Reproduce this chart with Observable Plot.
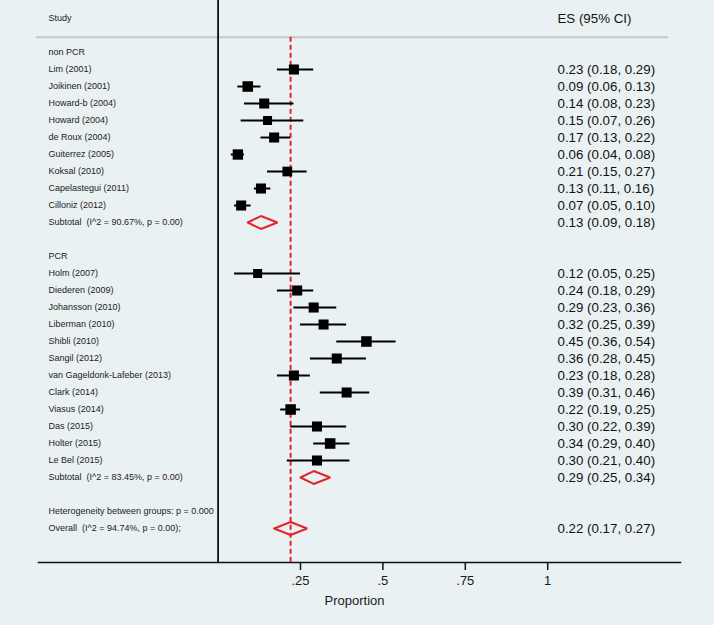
<!DOCTYPE html>
<html>
<head>
<meta charset="utf-8">
<script src="https://cdn.jsdelivr.net/npm/d3@7"></script>
<script src="https://cdn.jsdelivr.net/npm/@observablehq/plot@0.6"></script>
<style>
  html, body { margin: 0; padding: 0; background: #eaf1f3; }
  svg text { white-space: pre; }
</style>
</head>
<body>
<div id="chart"></div>
<script>
// ---- data ----
const groupNames = ["non PCR", "PCR"];

const nonPcrStudies = ["Lim (2001)", "Joikinen (2001)", "Howard-b (2004)", "Howard (2004)", "de Roux (2004)",
  "Guiterrez (2005)", "Koksal (2010)", "Capelastegui (2011)", "Cilloniz (2012)"];
const nonPcrES = [0.23, 0.09, 0.14, 0.15, 0.17, 0.06, 0.21, 0.13, 0.07];
const nonPcrLo = [0.18, 0.06, 0.08, 0.07, 0.13, 0.04, 0.15, 0.11, 0.05];
const nonPcrHi = [0.29, 0.13, 0.23, 0.26, 0.22, 0.08, 0.27, 0.16, 0.10];
const nonPcrWeight = [4.7, 5.2, 4.7, 3.8, 4.7, 5.0, 4.4, 4.7, 4.7];

const pcrStudies = ["Holm (2007)", "Diederen (2009)", "Johansson (2010)", "Liberman (2010)", "Shibli (2010)",
  "Sangil (2012)", "van Gageldonk-Lafeber (2013)", "Clark (2014)", "Viasus (2014)", "Das (2015)",
  "Holter (2015)", "Le Bel (2015)"];
const pcrES = [0.12, 0.24, 0.29, 0.32, 0.45, 0.36, 0.23, 0.39, 0.22, 0.30, 0.34, 0.30];
const pcrLo = [0.05, 0.18, 0.23, 0.25, 0.36, 0.28, 0.18, 0.31, 0.19, 0.22, 0.29, 0.21];
const pcrHi = [0.25, 0.29, 0.36, 0.39, 0.54, 0.45, 0.28, 0.46, 0.25, 0.39, 0.40, 0.40];
const pcrWeight = [3.8, 4.7, 4.7, 4.7, 5.2, 4.7, 4.7, 4.7, 5.2, 4.7, 5.2, 4.7];

const subtotalLabels = ["Subtotal  (I^2 = 90.67%, p = 0.00)", "Subtotal  (I^2 = 83.45%, p = 0.00)"];
const subtotalES = [0.13, 0.29];
const subtotalLo = [0.09, 0.25];
const subtotalHi = [0.18, 0.34];

const heterogeneityLabel = "Heterogeneity between groups: p = 0.000";
const overallLabel = "Overall  (I^2 = 94.74%, p = 0.00);";
const overallES = 0.22, overallLo = 0.17, overallHi = 0.27;

const headerLeft = "Study";
const headerRight = "ES (95% CI)";
const axisTicks = [0.25, 0.5, 0.75, 1];
const axisTitle = "Proportion";

// ---- build rows ----
const fmt = d3.format(".2f");
const esText = (e, l, h) => `${fmt(e)} (${fmt(l)}, ${fmt(h)})`;
const rows = [];     // text rows
const studies = [];  // squares + CI
const diamonds = []; // pooled estimates
let i = 0;
const groupData = [
  [nonPcrStudies, nonPcrES, nonPcrLo, nonPcrHi, nonPcrWeight],
  [pcrStudies, pcrES, pcrLo, pcrHi, pcrWeight]
];
groupData.forEach(([names, es, lo, hi, w], g) => {
  rows.push({i: i++, label: groupNames[g]});
  names.forEach((n, k) => {
    const r = {i: i++, label: n, es: es[k], lo: lo[k], hi: hi[k], w: w[k], right: esText(es[k], lo[k], hi[k])};
    rows.push(r); studies.push(r);
  });
  const s = {i: i++, label: subtotalLabels[g], es: subtotalES[g], lo: subtotalLo[g], hi: subtotalHi[g],
    right: esText(subtotalES[g], subtotalLo[g], subtotalHi[g])};
  rows.push(s); diamonds.push(s);
  i++; // blank row
});
rows.push({i: i++, label: heterogeneityLabel});
const ov = {i: i++, label: overallLabel, es: overallES, lo: overallLo, hi: overallHi,
  right: esText(overallES, overallLo, overallHi)};
rows.push(ov); diamonds.push(ov);

const headerRow = -2;
const ruleRow = -0.9;
const axisRow = i + 1;
const topRow = headerRow - 1.06;

const half = 0.38;
const diamondPts = diamonds.flatMap((d, k) => [
  {k, x: d.lo, y: d.i}, {k, x: d.es, y: d.i - half}, {k, x: d.hi, y: d.i},
  {k, x: d.es, y: d.i + half}, {k, x: d.lo, y: d.i}
]);

const red = "#e0262c";
const font = "'Liberation Sans', Arial, Helvetica, sans-serif";

const chart = Plot.plot({
  width: 714,
  height: 625,
  marginTop: 0,
  marginBottom: 63,
  marginLeft: 38,
  marginRight: 34,
  style: {background: "#eaf1f3", fontFamily: font, color: "#1a1a1a"},
  x: {domain: [0, 1], range: [217.6, 547.2], axis: null},
  y: {domain: [topRow, axisRow], range: [0, 562], axis: null},
  r: {type: "sqrt", domain: [0, 6], range: [0, 6.4]},
  marks: [
    Plot.ruleY([ruleRow], {stroke: "#c3c8ca", strokeWidth: 2, insetLeft: -2, insetRight: 12}),
    Plot.ruleX([0], {stroke: "#111", strokeWidth: 1.8}),
    Plot.ruleX([ov], {x: "es", y1: ruleRow, y2: axisRow, stroke: red, strokeWidth: 2, strokeDasharray: "5,3"}),
    Plot.ruleY(studies, {y: "i", x1: "lo", x2: "hi", stroke: "#000", strokeWidth: 2}),
    Plot.dot(studies, {x: "es", y: "i", r: "w", symbol: "square", fill: "#000", stroke: null}),
    Plot.line(diamondPts, {x: "x", y: "y", z: "k", stroke: red, strokeWidth: 2, fill: "none", strokeLinejoin: "miter"}),
    Plot.frame({anchor: "bottom", stroke: "#111", strokeWidth: 1.5}),
    Plot.axisX({ticks: axisTicks, tickFormat: d => String(d).replace(/^0\./, "."), tickSize: 8, tickPadding: 5,
      fontSize: 13, label: null, strokeWidth: 1.5, stroke: "#111", fill: "#1a1a1a"}),
    Plot.text([axisTitle], {frameAnchor: "bottom", dy: 38, dx: -5, fontSize: 13, fill: "#1a1a1a", lineAnchor: "middle"}),
    Plot.text([headerLeft], {y: () => headerRow, frameAnchor: "left", textAnchor: "start", dx: 10, fontSize: 9, fill: "#222"}),
    Plot.text([headerRight], {y: () => headerRow, frameAnchor: "right", textAnchor: "start", dx: -123, fontSize: 13.3, fill: "#111"}),
    Plot.text(rows, {y: "i", text: "label", frameAnchor: "left", textAnchor: "start", dx: 10, fontSize: 9, fill: "#222"}),
    Plot.text(rows.filter(r => r.right), {y: "i", text: "right", frameAnchor: "right", textAnchor: "start", dx: -123, fontSize: 13.3, fill: "#111"})
  ]
});
document.getElementById("chart").appendChild(chart);
</script>
</body>
</html>
